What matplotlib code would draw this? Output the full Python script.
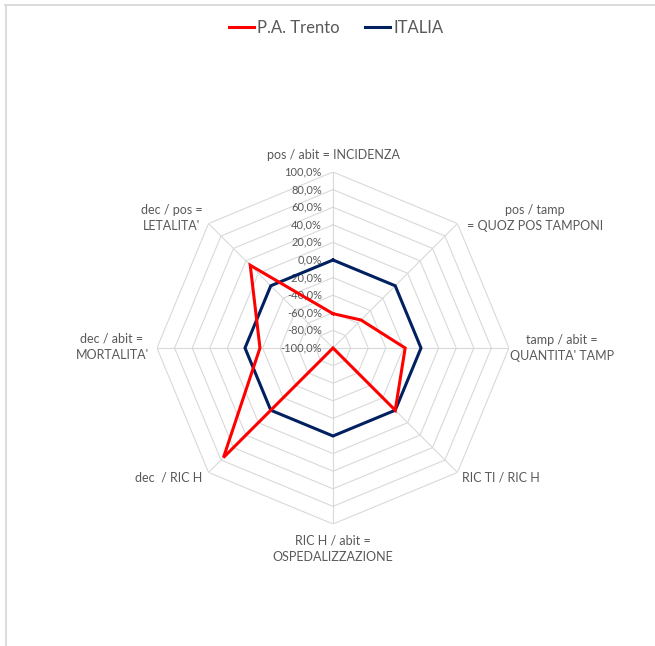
import numpy as np
import matplotlib
matplotlib.use("Agg")
import matplotlib.pyplot as plt
from matplotlib.lines import Line2D

categories = ["pos / abit = INCIDENZA", "pos / tamp\n= QUOZ POS TAMPONI",
              "tamp / abit =\nQUANTITA' TAMP", "RIC TI / RIC H",
              "RIC H / abit =\nOSPEDALIZZAZIONE", "dec  / RIC H",
              "dec / abit =\nMORTALITA'", "dec / pos =\nLETALITA'"]
trento = [-61, -55, -18, 0, -100, 76, -17, 33]
italia = [0, 0, 0, 0, 0, 0, 0, 0]
ticks = [-100, -80, -60, -40, -20, 0, 20, 40, 60, 80, 100]
tick_labels = ["-100,0%", "-80,0%", "-60,0%", "-40,0%", "-20,0%", "0,0%",
               "20,0%", "40,0%", "60,0%", "80,0%", "100,0%"]

plt.rcParams['font.family'] = ['Lato', 'DejaVu Sans']
W, H = 655, 646
fig = plt.figure(figsize=(W / 100, H / 100), dpi=100)
cx, cy, R = 333, 348, 176
ax = fig.add_axes([(cx - R) / W, (H - cy - R) / H, 2 * R / W, 2 * R / H], projection='polar')
ax.set_theta_zero_location('N')
ax.set_theta_direction(-1)
ax.set_ylim(-100, 100)
ax.grid(False)
ax.spines['polar'].set_visible(False)
ax.set_xticks([])
ax.set_yticks([])
ax.patch.set_alpha(0)

n = len(categories)
theta = np.linspace(0, 2 * np.pi, n, endpoint=False)
theta_c = np.append(theta, theta[0])
grid_col = '#d9d9d9'
for t in ticks[1:]:
    ax.plot(theta_c, [t] * (n + 1), color=grid_col, lw=0.8, zorder=1)
for th in theta:
    ax.plot([th, th], [-100, 100], color=grid_col, lw=0.8, zorder=1)

for t, lab in zip(ticks, tick_labels):
    ax.annotate(lab, xy=(0, t), xytext=(-8, 0), textcoords='offset points',
                ha='right', va='center', fontsize=8, color='#595959', zorder=2)

ax.plot(theta_c, trento + [trento[0]], color='#ff0000', lw=2.2, zorder=4,
        solid_joinstyle='miter')
ax.plot(theta_c, italia + [italia[0]], color='#002060', lw=2.2, zorder=3,
        solid_joinstyle='miter')

# category labels
label_pos = [(333, 155, 'center'), (535, 218, 'center'), (562, 348, 'center'),
             (501, 477, 'center'), (333, 549, 'center'), (169, 477, 'center'),
             (112, 347, 'center'), (172, 218, 'center')]
for lab, (x, y, ha) in zip(categories, label_pos):
    fig.text(x / W, 1 - y / H, lab, ha=ha, va='center', fontsize=9,
             color='#595959', linespacing=1.45, multialignment='center')

handles = [Line2D([], [], color='#ff0000', lw=2.2), Line2D([], [], color='#002060', lw=2.2)]
leg = fig.legend(handles, ["P.A. Trento", "ITALIA"], loc='center',
                 bbox_to_anchor=(336 / W, 1 - 28 / H), ncol=2, frameon=False,
                 fontsize=12, handlelength=1.5, handletextpad=0.2, columnspacing=1.5,
                 labelcolor='#595959')

# chart border (top and left visible)
fig.add_artist(Line2D([5 / W, 1], [1 - 4.5 / H, 1 - 4.5 / H], transform=fig.transFigure,
                      color='#d9d9d9', lw=1.3))
fig.add_artist(Line2D([5.5 / W, 5.5 / W], [0, 1 - 4.5 / H], transform=fig.transFigure,
                      color='#d9d9d9', lw=1.3))

fig.savefig('out.png', dpi=100, facecolor='white')
